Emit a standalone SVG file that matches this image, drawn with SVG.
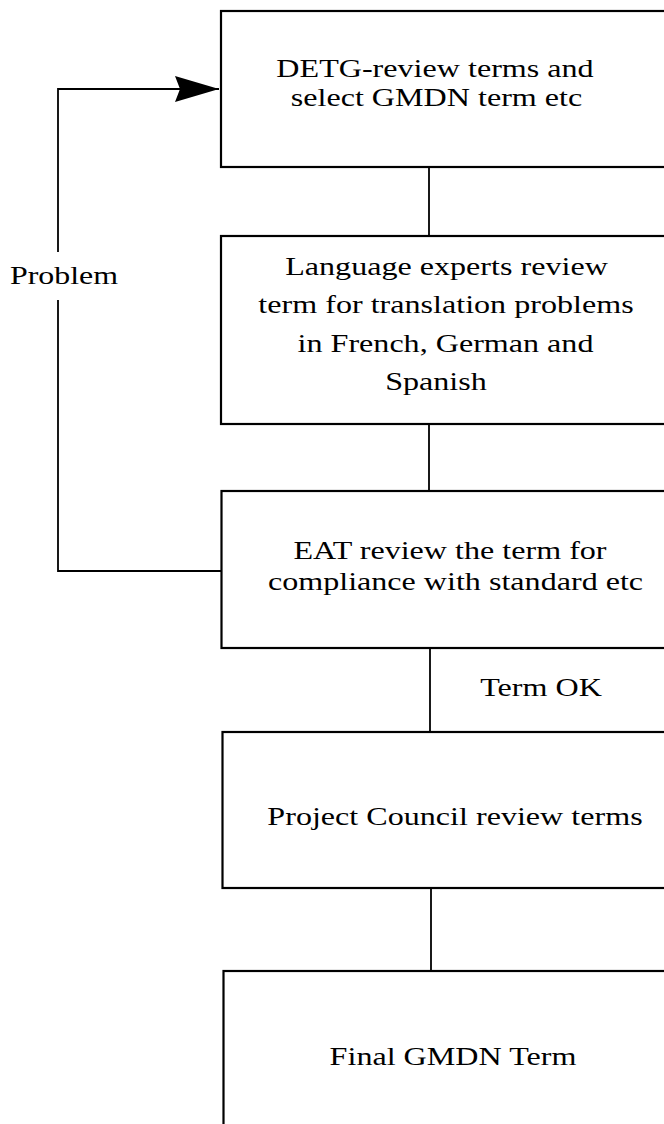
<svg xmlns="http://www.w3.org/2000/svg" width="664" height="1124" viewBox="0 0 664 1124">
  <style>
    .box { fill: #fff; stroke: #000; stroke-width: 2.2; }
    .wire { fill: none; stroke: #000; stroke-width: 1.8; }
    .lbl { font-family: "Liberation Serif", "Times New Roman", serif; font-size: 26px; fill: #000; text-anchor: middle; }
  </style>
  <defs>
    <marker id="arrow" markerUnits="userSpaceOnUse" markerWidth="46" markerHeight="28" refX="44" refY="13" orient="auto">
      <path d="M0,0 L44,13 L0,26 L5,13 Z" fill="#000"/>
    </marker>
  </defs>
  <rect width="664" height="1124" fill="#fff"/>

  <g id="connectors">
    <line class="wire" x1="429" y1="167" x2="429" y2="236"/>
    <line class="wire" x1="429" y1="424" x2="429" y2="491"/>
    <line class="wire" x1="430" y1="648" x2="430" y2="732"/>
    <line class="wire" x1="431" y1="888" x2="431" y2="971"/>
    <!-- feedback loop from EAT review back to DETG -->
    <polyline class="wire" points="221,571 58,571 58,300"/>
    <polyline class="wire" points="58,252 58,89 219,89" marker-end="url(#arrow)"/>
    <text class="lbl" transform="translate(64,284) scale(1.227,1)">Problem</text>
    <text class="lbl" transform="translate(541,696) scale(1.235,1)">Term OK</text>
  </g>

  <g id="detg">
    <rect class="box" x="221" y="11" width="500" height="156"/>
    <text class="lbl" transform="translate(435,77) scale(1.235,1)">DETG-review terms and</text>
    <text class="lbl" transform="translate(436.5,106) scale(1.235,1)">select GMDN term etc</text>
  </g>

  <g id="language-experts">
    <rect class="box" x="221" y="236" width="500" height="188"/>
    <text class="lbl" transform="translate(446.5,275) scale(1.235,1)">Language experts review</text>
    <text class="lbl" transform="translate(446,313) scale(1.235,1)">term for translation problems</text>
    <text class="lbl" transform="translate(445.5,352) scale(1.235,1)">in French, German and</text>
    <text class="lbl" transform="translate(436,390) scale(1.235,1)">Spanish</text>
  </g>

  <g id="eat">
    <rect class="box" x="221.5" y="491" width="500" height="157"/>
    <text class="lbl" transform="translate(450,559) scale(1.235,1)">EAT review the term for</text>
    <text class="lbl" transform="translate(455.5,590) scale(1.235,1)">compliance with standard etc</text>
  </g>

  <g id="project-council">
    <rect class="box" x="222.5" y="732" width="500" height="156"/>
    <text class="lbl" transform="translate(455,825) scale(1.235,1)">Project Council review terms</text>
  </g>

  <g id="final-term">
    <rect class="box" x="223.5" y="971" width="500" height="200"/>
    <text class="lbl" transform="translate(453,1065) scale(1.235,1)">Final GMDN Term</text>
  </g>
</svg>
